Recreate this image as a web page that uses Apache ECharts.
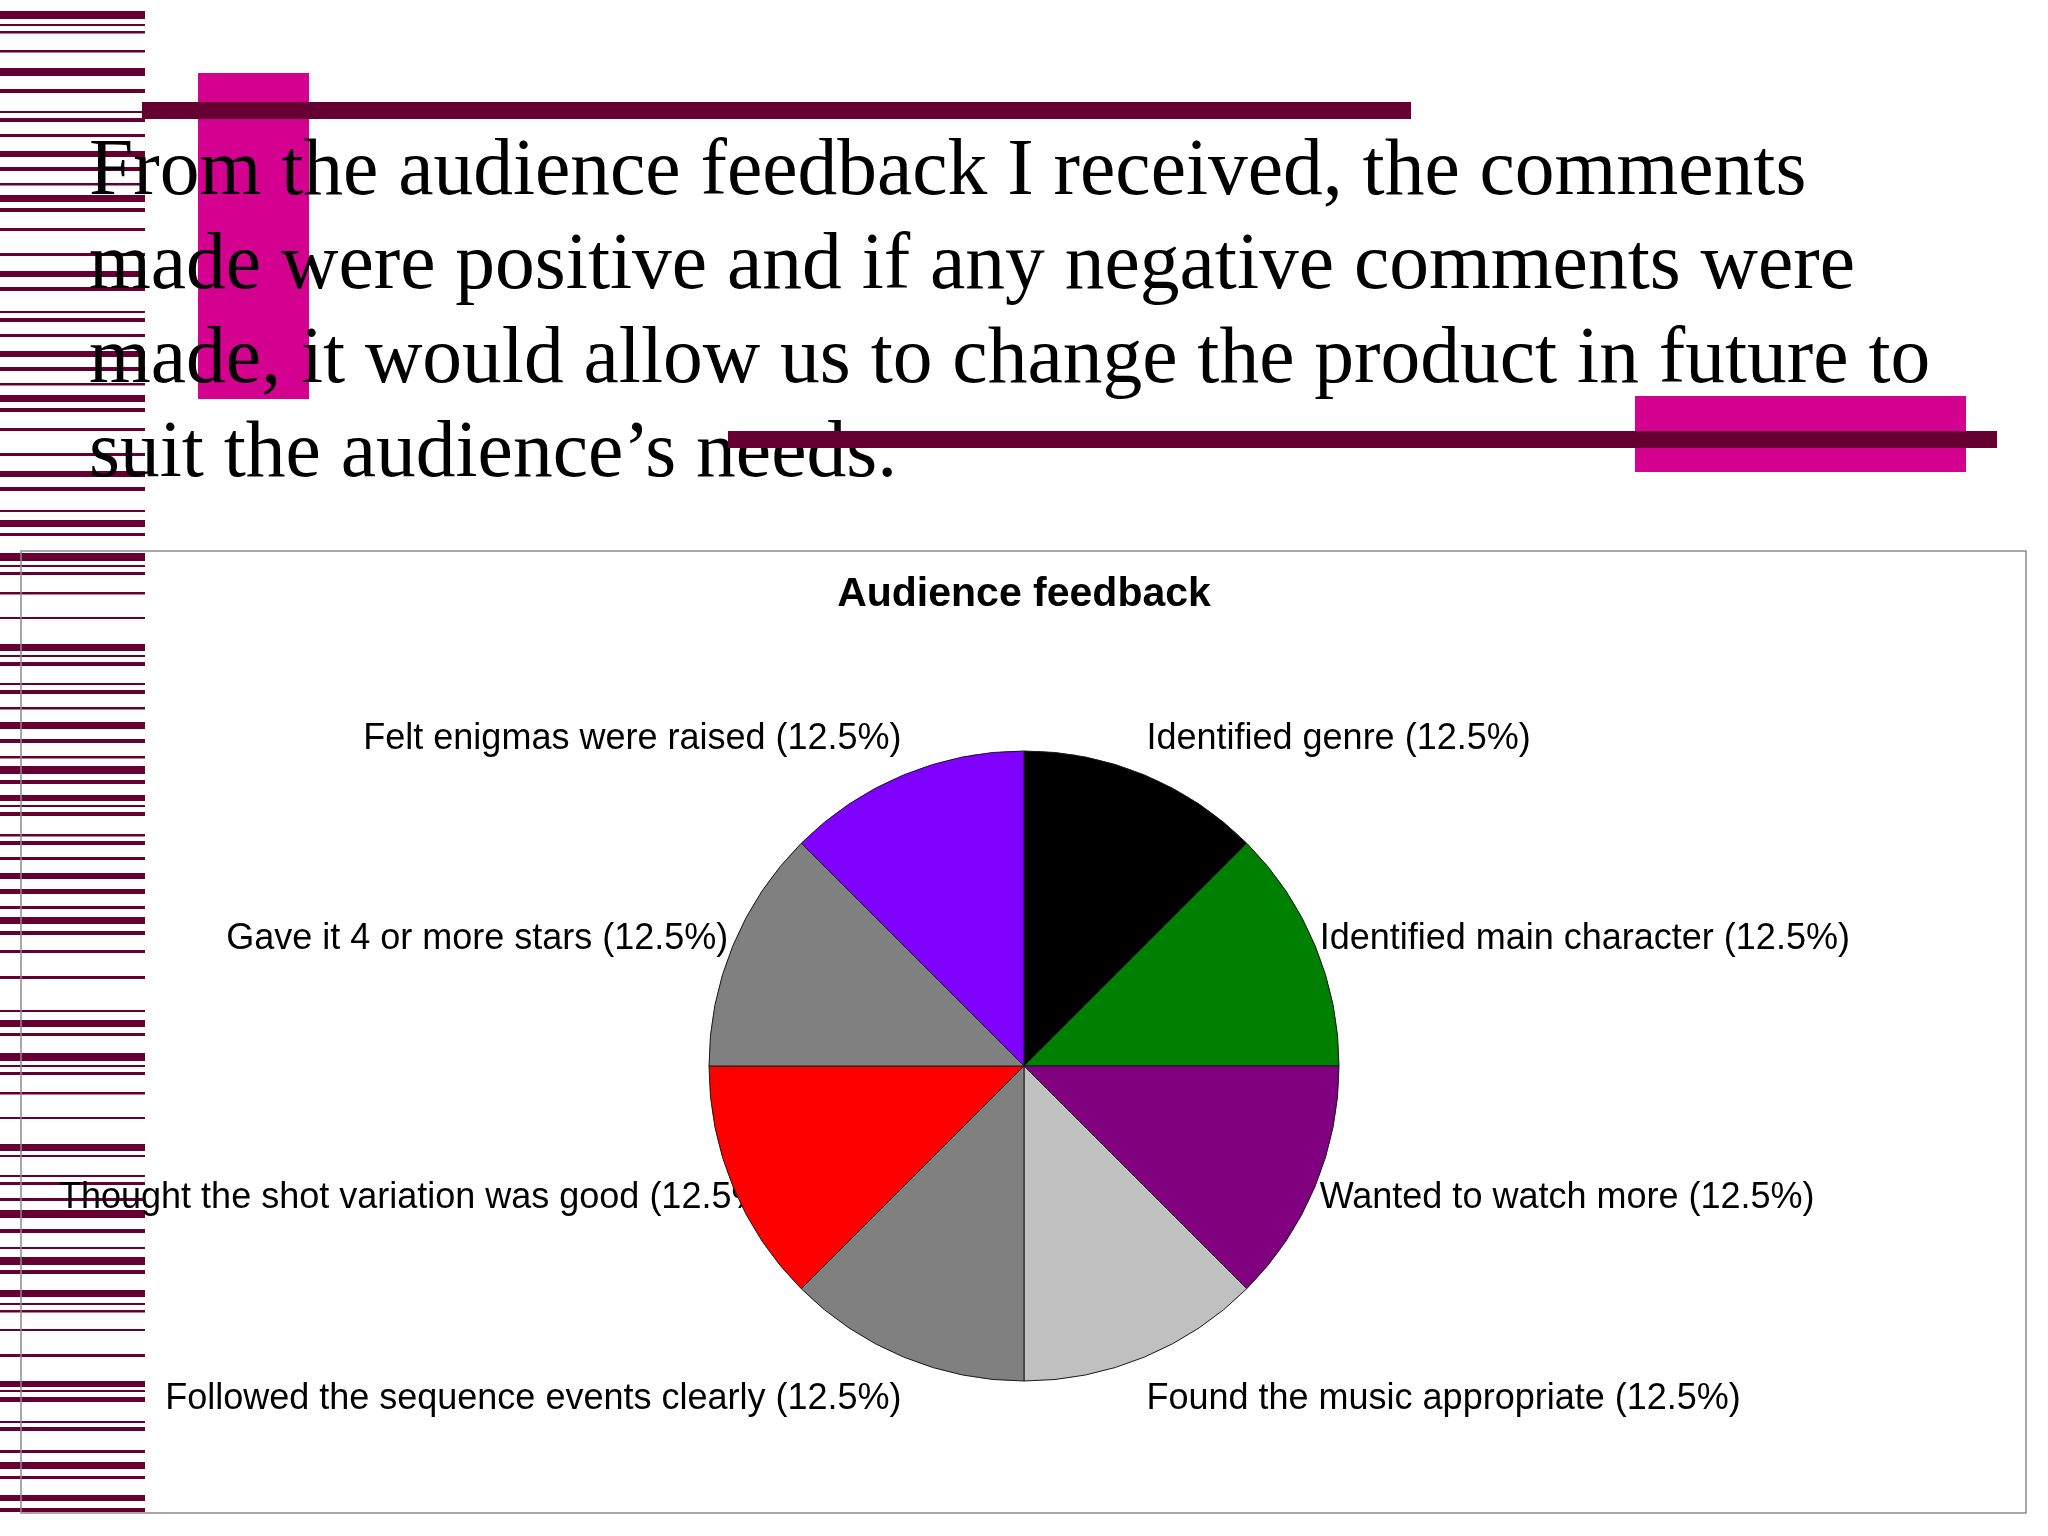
<!DOCTYPE html>
<html>
<head>
<meta charset="utf-8">
<title>Audience feedback</title>
<script src="https://cdn.jsdelivr.net/npm/echarts@6/dist/echarts.min.js"></script>
<style>
  html, body { margin: 0; padding: 0; background: #ffffff; }
  #chart { width: 2048px; height: 1536px; }
</style>
</head>
<body>
<div id="chart"></div>
<script>
// ---------------- data ----------------
const chartTitle = 'Audience feedback';
const categories = [
  'Identified genre',
  'Identified main character',
  'Wanted to watch more',
  'Found the music appropriate',
  'Followed the sequence events clearly',
  'Thought the shot variation was good',
  'Gave it 4 or more stars',
  'Felt enigmas were raised'
];
const shares = [12.5, 12.5, 12.5, 12.5, 12.5, 12.5, 12.5, 12.5];
const sliceColors = ['#000000', '#008000', '#800080', '#c0c0c0', '#808080', '#ff0000', '#808080', '#8000ff'];
const paragraphLines = [
  'From the audience feedback I received, the comments',
  'made were positive and if any negative comments were',
  'made, it would allow us to change the product in future to',
  'suit the audience\u2019s needs.'
];

// ---------------- decoration (slide background) ----------------
const stripes = [
  [11,8],[24,2],[31,2.5],[50,2.5],[68,8],[89,4],[111,2],[118,4],[134,3],[151,6],[167,4],[183,2.5],[195,7],[208,4],[228,3],[253,3],[271,6],[287,4],
  [311,2],[318,4],[334,3],[351,6],[367,4],[383,2.5],[395,7],[408,4],[428,3],[453,3],[471,6],[487,4],
  [510,2],[520,7],[533,3],[553,8],[565,2],[572,3],[592,2.5],[617,2],[644,7],[655,2],[662,4],[683,2],[690,4],[707,2.5],[722,7],[739,4],[756,2.5],[766,8],[780,4],[795,6],[805,2],[812,4],[834,2.5],[841,4],[857,3],[873,6],[889,5],[906,3],[917,7],[931,4],[950,3],[976,3],
  [1010,2],[1020,7],[1033,3],[1053,8],[1065,2],[1072,3],[1092,2.5],[1117,2],[1144,7],[1155,2],
  [1175,2],[1182,3],[1198,3],[1210,8],[1229,4],[1247,2],[1257,8],[1270,4],[1290,7],[1303,2],[1310,2.5],[1329,2],[1354,3],[1381,6],[1390,2],[1397,5],[1421,2],[1427,4],
  [1450,3],[1462,7],[1476,3],[1495,6],[1508,4]
];

// ---------------- layout constants ----------------
const CENTER = [1024, 1066];
const RADIUS = 315;
const LABEL_DIST_X = 320;
const LABEL_DIST_Y = 325;
const LABEL_LIFT = 35;
const LABEL_SHIFT_Y = 3;
const LABEL_MIN_LEFT = 59;
const LABEL_FONT = 36;
const SANS = '"Liberation Sans", Arial, Helvetica, sans-serif';
const SERIF = '"Liberation Serif", "Times New Roman", Times, serif';
const MAROON = '#660033';
const MAGENTA = '#d40090';

const total = shares.reduce((a, b) => a + b, 0);
const midAngles = [];
(function () {
  let cum = 0;
  for (let i = 0; i < shares.length; i++) {
    const mid = (cum + shares[i] / 2) / total;
    midAngles.push((90 - mid * 360) * Math.PI / 180);
    cum += shares[i];
  }
})();

const measureCtx = document.createElement('canvas').getContext('2d');
function textWidth(str) {
  measureCtx.font = LABEL_FONT + 'px ' + SANS;
  return measureCtx.measureText(str).width;
}
function labelText(i) {
  const pct = +(shares[i] / total * 100).toFixed(2);
  return categories[i] + ' (' + pct + '%)';
}

const pieData = categories.map((name, i) => ({ name: name, value: shares[i] }));

// ---------------- graphics ----------------
const graphics = [];
stripes.forEach((s) => {
  graphics.push({ type: 'rect', z: 0, z2: 1, silent: true,
    shape: { x: 0, y: s[0], width: 145, height: s[1] },
    style: { fill: MAROON } });
});
graphics.push({ type: 'rect', z: 0, z2: 2, silent: true,
  shape: { x: 198, y: 73, width: 111, height: 326 }, style: { fill: MAGENTA } });
graphics.push({ type: 'rect', z: 0, z2: 2, silent: true,
  shape: { x: 1635, y: 396, width: 331, height: 76 }, style: { fill: MAGENTA } });
graphics.push({ type: 'text', z: 0, z2: 3, silent: true,
  style: { text: paragraphLines.join('\n'), x: 89, y: 126,
    font: '79.5px ' + SERIF, lineHeight: 94, fill: '#000000',
    align: 'left', verticalAlign: 'top' } });
graphics.push({ type: 'rect', z: 0, z2: 4, silent: true,
  shape: { x: 142, y: 102, width: 1269, height: 17 }, style: { fill: MAROON } });
graphics.push({ type: 'rect', z: 0, z2: 4, silent: true,
  shape: { x: 728, y: 431, width: 1269, height: 17 }, style: { fill: MAROON } });
graphics.push({ type: 'rect', z: 0, z2: 5, silent: true,
  shape: { x: 21, y: 551, width: 2005, height: 962 },
  style: { fill: 'none', stroke: '#8a8a8a', lineWidth: 1.5 } });

// ---------------- chart ----------------
const chart = echarts.init(document.getElementById('chart'));
chart.setOption({
  animation: false,
  backgroundColor: '#ffffff',
  title: {
    text: chartTitle,
    left: 'center',
    top: 570,
    padding: 0,
    textStyle: { fontSize: 41, fontWeight: 'bold', fontFamily: SANS, color: '#000000', lineHeight: 50 }
  },
  graphic: { elements: graphics },
  series: [
    {
      // labels (drawn beneath the sectors)
      type: 'pie',
      z: 1,
      silent: true,
      center: CENTER,
      radius: RADIUS,
      startAngle: 90,
      clockwise: true,
      avoidLabelOverlap: false,
      itemStyle: { color: 'rgba(0,0,0,0)', borderWidth: 0 },
      emphasis: { disabled: true },
      label: {
        show: true,
        position: 'outside',
        formatter: '{b} ({d}%)',
        fontSize: LABEL_FONT,
        fontFamily: SANS,
        color: '#000000',
        width: 900,
        overflow: 'none'
      },
      labelLine: { show: false },
      labelLayout: function (p) {
        const i = p.dataIndex;
        const a = midAngles[i];
        const c = Math.cos(a), s = Math.sin(a);
        let x = CENTER[0] + LABEL_DIST_X * c;
        const y = CENTER[1] - LABEL_DIST_Y * s - Math.sign(s) * LABEL_LIFT * s * s + LABEL_SHIFT_Y;
        let align = c >= 0 ? 'left' : 'right';
        if (align === 'right') {
          const w = textWidth(labelText(i));
          if (x - w < LABEL_MIN_LEFT) { x = LABEL_MIN_LEFT; align = 'left'; }
        }
        return { x: x, y: y, align: align, verticalAlign: 'middle' };
      },
      data: pieData
    },
    {
      // sectors
      type: 'pie',
      z: 2,
      silent: true,
      center: CENTER,
      radius: RADIUS,
      startAngle: 90,
      clockwise: true,
      emphasis: { disabled: true },
      label: { show: false },
      labelLine: { show: false },
      itemStyle: { borderColor: '#1a1a1a', borderWidth: 1 },
      data: pieData.map((d, i) => ({ name: d.name, value: d.value, itemStyle: { color: sliceColors[i] } }))
    }
  ]
});
</script>
</body>
</html>
